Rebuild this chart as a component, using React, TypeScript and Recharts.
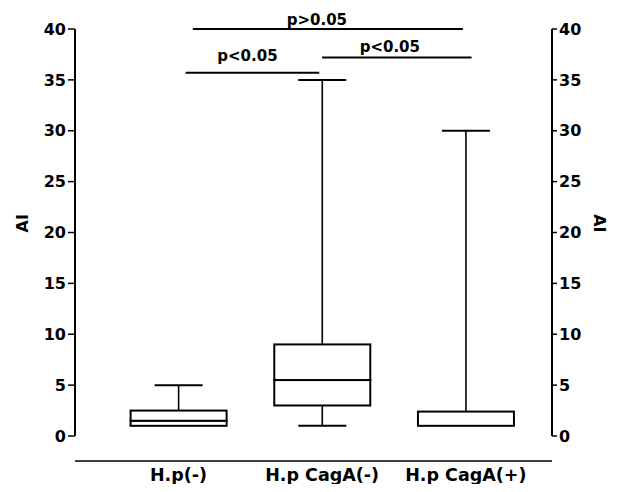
import { ComposedChart, Bar, Line, XAxis, YAxis, ReferenceLine } from 'recharts'

// ─── Data ────────────────────────────────────────────────────────────────────

const categories = ['H.p(-)', 'H.p CagA(-)', 'H.p CagA(+)']
const positions = [1, 2, 3]
const mins = [1, 1, 1]
const q1s = [1, 3, 1]
const medians = [1.5, 5.5, 1]
const q3s = [2.5, 9, 2.4]
const maxs = [5, 35, 30]

const yTicks = [0, 5, 10, 15, 20, 25, 30, 35, 40]

// significance brackets: from / to (in category units), height, text
const sigFrom = [1.1, 1.05, 2.0]
const sigTo = [2.98, 1.98, 3.04]
const sigY = [40, 35.7, 37.2]
const sigText = ['p>0.05', 'p<0.05', 'p<0.05']

const data = positions.map((pos, i) => ({
  pos,
  name: categories[i],
  base: mins[i],
  lowWhisker: q1s[i] - mins[i],
  lowBox: medians[i] - q1s[i],
  upBox: q3s[i] - medians[i],
  upWhisker: maxs[i] - q3s[i],
}))

// ─── Shapes ──────────────────────────────────────────────────────────────────

const FONT = '"DejaVu Sans", Arial, sans-serif'
const X_DOMAIN: [number, number] = [0.28, 3.6]

const BoxPart = (props: any) => {
  const { x, y, width, height } = props
  if (!height || height <= 0) return <g />
  return <rect x={x} y={y} width={width} height={height} fill="#fff" stroke="#000" strokeWidth={2} />
}

const UpperWhisker = (props: any) => {
  const { x, y, width, height } = props
  if (!height || height <= 0) return <g />
  const cx = x + width / 2
  return (
    <g stroke="#000">
      <line x1={cx} x2={cx} y1={y + height} y2={y} strokeWidth={1.6} />
      <line x1={cx - width / 4} x2={cx + width / 4} y1={y} y2={y} strokeWidth={2} />
    </g>
  )
}

const LowerWhisker = (props: any) => {
  const { x, y, width, height } = props
  if (!height || height <= 0) return <g />
  const cx = x + width / 2
  return (
    <g stroke="#000">
      <line x1={cx} x2={cx} y1={y} y2={y + height} strokeWidth={1.6} />
      <line x1={cx - width / 4} x2={cx + width / 4} y1={y + height} y2={y + height} strokeWidth={2} />
    </g>
  )
}

// label tweaks for the brackets (offset above line, horizontal shift)
const sigOffset = [4, 12, 5]
const sigDx = [-11, -5, -7]

const tickStyle = { fill: '#000', fontSize: 16, fontWeight: 700, fontFamily: FONT }

// ─── Component ───────────────────────────────────────────────────────────────

export default function App() {
  return (
    <ComposedChart
      width={605}
      height={476}
      data={data}
      margin={{ top: 21, right: 8, bottom: 1, left: 9 }}
    >
      {/* spacer axis: pushes the category axis line below the plot */}
      <XAxis
        xAxisId="axisA"
        type="number"
        dataKey="pos"
        domain={X_DOMAIN}
        ticks={positions}
        allowDataOverflow
        height={25}
        axisLine={false}
        tickLine={false}
        tick={false}
      />
      <XAxis
        xAxisId="axisB"
        type="number"
        dataKey="pos"
        domain={X_DOMAIN}
        ticks={positions}
        allowDataOverflow
        height={22}
        tickFormatter={(v: number) => categories[positions.indexOf(v)] ?? ''}
        axisLine={{ stroke: '#000', strokeWidth: 1.5 }}
        tickLine={false}
        tick={{ ...tickStyle, fontSize: 17.5 }}
      />
      <YAxis
        yAxisId="left"
        type="number"
        domain={[0, 40]}
        ticks={yTicks}
        allowDataOverflow
        width={58}
        tick={tickStyle}
        tickSize={7}
        tickMargin={2}
        axisLine={{ stroke: '#000', strokeWidth: 2 }}
        tickLine={{ stroke: '#000', strokeWidth: 1.5 }}
        label={{ value: 'AI', angle: -90, position: 'insideLeft', fill: '#000', fontSize: 16, fontWeight: 700, fontFamily: FONT }}
      />
      <YAxis
        yAxisId="right"
        type="number"
        orientation="right"
        domain={[0, 40]}
        ticks={yTicks}
        allowDataOverflow
        width={53}
        tick={tickStyle}
        tickSize={5}
        tickMargin={2}
        axisLine={{ stroke: '#000', strokeWidth: 2 }}
        tickLine={{ stroke: '#000', strokeWidth: 1.5 }}
        label={{ value: 'AI', angle: 90, position: 'insideRight', fill: '#000', fontSize: 16, fontWeight: 700, fontFamily: FONT }}
      />
      <Bar xAxisId="axisA" yAxisId="left" dataKey="base" stackId="box" fill="transparent" barSize={96} isAnimationActive={false} />
      <Bar xAxisId="axisA" yAxisId="left" dataKey="lowWhisker" stackId="box" barSize={96} shape={LowerWhisker} isAnimationActive={false} />
      <Bar xAxisId="axisA" yAxisId="left" dataKey="lowBox" stackId="box" barSize={96} shape={BoxPart} isAnimationActive={false} />
      <Bar xAxisId="axisA" yAxisId="left" dataKey="upBox" stackId="box" barSize={96} shape={BoxPart} isAnimationActive={false} />
      <Bar xAxisId="axisA" yAxisId="left" dataKey="upWhisker" stackId="box" barSize={96} shape={UpperWhisker} isAnimationActive={false} />
      {/* invisible series so the right axis gets its scale */}
      <Line xAxisId="axisA" yAxisId="right" dataKey="base" stroke="none" dot={false} activeDot={false} isAnimationActive={false} />
      {sigText.map((t, i) => (
        <ReferenceLine
          key={i}
          xAxisId="axisA"
          yAxisId="left"
          segment={[{ x: sigFrom[i], y: sigY[i] }, { x: sigTo[i], y: sigY[i] }]}
          stroke="#000"
          strokeWidth={2}
          ifOverflow="visible"
          label={{
            value: t,
            position: 'top',
            offset: sigOffset[i],
            dx: sigDx[i],
            fill: '#000',
            fontSize: 15,
            fontWeight: 700,
            fontFamily: FONT,
          }}
        />
      ))}
    </ComposedChart>
  )
}
